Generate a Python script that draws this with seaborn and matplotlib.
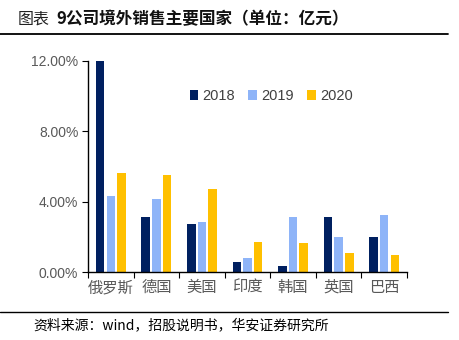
import matplotlib
matplotlib.use("Agg")
import matplotlib.pyplot as plt
import seaborn as sns
import pandas as pd
from matplotlib.ticker import PercentFormatter, FixedLocator
from matplotlib.lines import Line2D

countries = ["俄罗斯", "德国", "美国", "印度", "韩国", "英国", "巴西"]
years = ["2018", "2019", "2020"]
v2018 = [0.1200, 0.0315, 0.0275, 0.0059, 0.0034, 0.0311, 0.0197]
v2019 = [0.0432, 0.0415, 0.0284, 0.0078, 0.0315, 0.0201, 0.0326]
v2020 = [0.0563, 0.0552, 0.0472, 0.0172, 0.0167, 0.0106, 0.0095]
yticks = [0.0, 0.04, 0.08, 0.12]

df = pd.DataFrame({
    "country": countries * 3,
    "year": [years[0]] * 7 + [years[1]] * 7 + [years[2]] * 7,
    "value": v2018 + v2019 + v2020,
})

sns.set_theme(style="white")
plt.rcParams["font.family"] = ["Liberation Sans", "Noto Sans CJK SC", "DejaVu Sans"]
cjk = ["Noto Sans CJK SC", "DejaVu Sans"]

palette = {"2018": "#002060", "2019": "#8EB4F8", "2020": "#FFC000"}

fig = plt.figure(figsize=(4.6, 3.4), dpi=100)
ax = fig.add_axes([88 / 460, 1 - 272 / 340, 319 / 460, 211 / 340])

sns.barplot(data=df, x="country", y="value", hue="year", order=countries,
            hue_order=years, palette=palette, width=0.7, gap=0.2,
            saturation=1, ax=ax, legend=True, edgecolor="none")

ax.set_xlim(-0.5, 6.5)
ax.set_ylim(0, 0.12)
ax.set_yticks(yticks)
ax.yaxis.set_major_formatter(PercentFormatter(1.0, decimals=2))
ax.set_xlabel("")
ax.set_ylabel("")

for s in ["top", "right"]:
    ax.spines[s].set_visible(False)
for s in ["left", "bottom"]:
    ax.spines[s].set_color("black")
    ax.spines[s].set_linewidth(1.0)

ax.tick_params(axis="y", which="major", direction="out", length=4, width=0.8,
               color="black", labelsize=10, labelcolor="#595959", pad=3, left=True)
ax.tick_params(axis="x", which="major", length=0, pad=5, labelsize=11, labelcolor="#595959")
ax.xaxis.set_minor_locator(FixedLocator([i - 0.5 for i in range(8)]))
ax.tick_params(axis="x", which="minor", direction="out", length=4, width=0.8,
               color="black", bottom=True)
for lbl in ax.get_xticklabels():
    lbl.set_fontfamily(cjk)

leg = ax.legend(loc="center left", bbox_to_anchor=(0.30, 0.834), ncol=3, frameon=False,
                handlelength=0.6, handleheight=0.6, handletextpad=0.3,
                columnspacing=0.9, fontsize=10.5, borderaxespad=0)
for t in leg.get_texts():
    t.set_color("#404040")

# title and footnote
fig.text(18 / 460, 1 - 19 / 340, "图表", fontsize=11.5, family=cjk, va="center", ha="left",
         color="#222222")
fig.text(56 / 460, 1 - 19 / 340, "9公司境外销售主要国家（单位：亿元）", fontsize=12,
         family=cjk, va="center", ha="left", fontweight="bold", color="#111111")
fig.add_artist(Line2D([0, 448 / 460], [1 - 34 / 340] * 2, color="black", lw=1.3,
                      transform=fig.transFigure))
fig.add_artist(Line2D([0, 448 / 460], [1 - 312 / 340] * 2, color="black", lw=1.0,
                      transform=fig.transFigure))
fig.text(33 / 460, 1 - 325 / 340, "资料来源：wind，招股说明书，华安证券研究所", fontsize=10,
         family=cjk, va="center", ha="left", color="black")

fig.savefig("out.png", dpi=100)
